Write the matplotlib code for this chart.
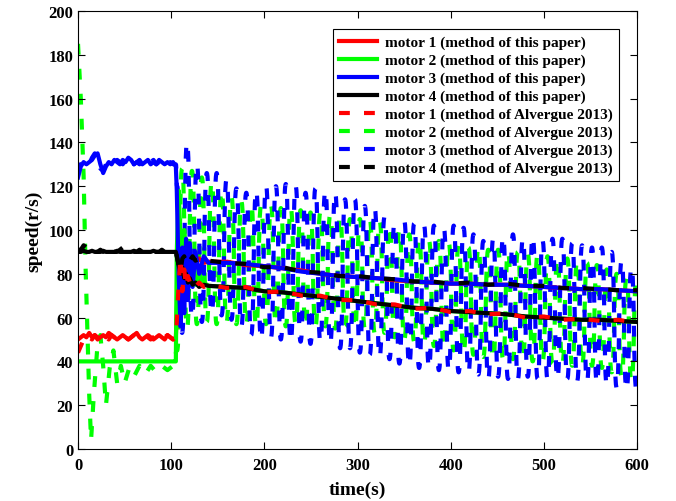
import numpy as np
import matplotlib
matplotlib.use("Agg")
import matplotlib.pyplot as plt
from matplotlib.path import Path
from matplotlib.patches import PathPatch

plt.rcParams["font.family"] = ["Liberation Serif", "DejaVu Serif"]
plt.rcParams["font.weight"] = "bold"

# time grids
pre_t = np.arange(0, 106, 3)  # 0..105
track_t = [106, 108, 110, 112, 114, 116, 118, 120, 123, 126, 130, 135,
           140, 160, 180, 200, 220, 240, 260, 280, 300, 320, 340, 360,
           380, 400, 420, 440, 460, 480, 500, 520, 540, 560, 580, 600]
osc_t = np.arange(106.4, 600, 5.3)  # turning points of the oscillating Alvergue curves

# method of this paper (solid)
red_pre = [50, 51, 52, 51, 53, 51, 52, 50, 51, 52, 51, 53, 52, 51, 50, 51, 52, 51,
           50, 51, 52, 53, 51, 50, 51, 52, 51, 50, 51, 52, 51, 50, 52, 51, 50, 51]
red_post = [62, 88, 95, 78, 90, 80, 89, 82, 88, 84, 87, 85,
            85.5, 85.5, 84, 83.5, 82.5, 81.5, 80, 79, 78.5, 78, 77, 76.5,
            76, 75.5, 75.5, 75, 75, 74.5, 74, 73.5, 73, 73, 72.5, 72]
green_pre = [40, 40, 40, 40, 40, 40, 40, 40, 40, 40, 40, 40, 40, 40, 40, 40, 40, 40,
             40, 40, 40, 40, 40, 40, 40, 40, 40, 40, 40, 40, 40, 40, 40, 40, 40, 40]
green_post = [90, 118, 96, 72, 100, 74, 92, 77, 86, 75, 80, 76,
              74.5, 74, 73.5, 72, 71.5, 70.5, 69.5, 68.5, 67.5, 66.5, 65.5, 64.5,
              64, 63, 62.5, 62, 61.5, 60.5, 60, 59.5, 59, 59, 58.5, 58]
blue_pre = [124, 129, 131, 130, 131, 132, 134, 135, 130, 126, 129, 131, 130, 132, 131, 130, 132, 131,
            133, 132, 130, 131, 132, 130, 131, 132, 130, 131, 130, 132, 131, 130, 131, 130, 131, 129]
blue_post = [118, 80, 56, 92, 62, 96, 68, 94, 74, 90, 80, 88,
             85, 85, 84.5, 83.5, 82.5, 81, 80, 79, 78.5, 78, 77.5, 76.5,
             76, 75.5, 75.5, 75, 75, 74.5, 74, 73.5, 73, 73, 72.5, 72]
black_pre = [90, 90, 90.5, 90, 90, 90.5, 90, 90, 90, 90.5, 90, 90, 90, 90, 90.5, 90, 90, 90,
             90, 90, 90.5, 90, 90, 90, 90, 90, 90, 90.5, 90, 90, 90, 90, 90, 90, 90, 90]
black_post = [88, 84, 80, 83, 78, 80, 76, 78, 75, 76, 74, 75,
              74.5, 74, 73.5, 72, 71.5, 70.5, 69.5, 68.5, 67.5, 66.5, 65.5, 64.5,
              64, 63, 62.5, 62, 61.5, 60.5, 60, 59.5, 59, 59, 58.5, 58]

# method of Alvergue 2013 (dashed)
red_d_pre = [44, 47, 50, 52, 51, 50, 52, 51, 50, 52, 51, 50, 52, 51, 50, 51, 52, 51,
             50, 51, 52, 51, 50, 51, 52, 51, 50, 51, 52, 51, 50, 51, 52, 51, 50, 51]
red_d_post = [58, 75, 88, 72, 82, 74, 79, 76, 77, 74, 76, 74,
              75, 73.5, 74, 71.5, 72, 70, 70, 68, 68, 66, 66, 64,
              64.5, 62.5, 63, 61.5, 62, 60, 60.5, 59, 59.5, 58.5, 59, 57.5]
black_d_pre = [91, 91, 93, 92, 90, 91, 90, 90, 91, 90, 92, 90, 91, 90, 90, 91, 92, 90,
               90, 91, 90, 90, 91, 90, 90, 90, 91, 90, 90, 90, 91, 90, 90, 90, 90, 90]
black_d_post = [88, 84, 81, 87, 88, 85, 87, 86, 88, 86, 87, 86,
                86, 85, 84.5, 83, 83, 81, 80.5, 79, 79, 78, 77.5, 76.5,
                76.5, 75.5, 76, 75, 75.5, 74.5, 74.5, 73.5, 73.5, 73, 72.5, 72.5]
blue_d_pre = [126, 130, 132, 131, 130, 133, 135, 133, 128, 127, 130, 131, 131, 130, 132, 131, 130, 132,
              131, 132, 130, 131, 130, 132, 131, 130, 131, 132, 130, 131, 130, 131, 130, 131, 130, 130]
blue_d_post = [120,
               53, 140, 60, 130, 58, 126, 62, 126, 61, 123, 59, 119, 56, 117, 52, 118,
               50, 120, 51, 120, 50, 121, 49, 120, 49, 117, 48, 119, 49, 118, 48, 117,
               46, 114, 46, 114, 44, 111, 43, 110, 42, 106, 41, 103, 39, 104, 38, 103,
               37, 102, 37, 102, 36, 101, 36, 102, 35, 101, 35, 98, 34, 95, 32, 96,
               33, 97, 32, 98, 32, 96, 33, 97, 32, 95, 32, 96, 32, 96, 32, 94,
               31, 93, 31, 92, 30, 92, 29, 90, 28, 86, 27, 83,
               27]
green_d_pre_t = [0, 3, 6, 8, 10, 12, 14, 17, 21, 24, 27, 30, 34, 38, 42, 46, 50, 55,
                 60, 66, 72, 78, 84, 90, 96, 102]
green_d_pre = [185, 160, 125, 85, 55, 25, 4, 25, 48, 52, 38, 20, 37, 45, 30, 38, 30, 37,
               33, 38, 34, 38, 35, 38, 36, 38]
green_d_post = [45,
                128, 55, 127, 57, 124, 58, 122, 57, 118, 58, 115, 57, 113, 57, 112, 56,
                111, 57, 111, 57, 110, 56, 110, 57, 109, 56, 108, 56, 108, 56, 107, 55,
                106, 56, 105, 55, 105, 55, 105, 53, 104, 53, 102, 51, 100, 50, 98, 49,
                96, 48, 95, 47, 95, 46, 94, 45, 93, 44, 92, 43, 92, 42, 91, 41,
                91, 41, 90, 41, 90, 41, 89, 40, 89, 40, 88, 39, 87, 39, 87, 38,
                86, 38, 85, 38, 84, 37, 82, 35, 80, 33, 78, 31,
                77]

labels = ["motor 1 (method of this paper)", "motor 2 (method of this paper)",
          "motor 3 (method of this paper)", "motor 4 (method of this paper)",
          "motor 1 (method of Alvergue 2013)", "motor 2 (method of Alvergue 2013)",
          "motor 3 (method of Alvergue 2013)", "motor 4 (method of Alvergue 2013)"]
colors = ["#ff0000", "#00ff00", "#0000ff", "#000000"]

lw = 3
dash = (0, (2.6, 3.4))


def wave_path(t_pre, v_pre, t_ext, v_ext, c=0.6):
    # pre-switch samples as straight segments, turning points joined by smooth curves
    verts = list(zip(t_pre, v_pre))
    codes = [Path.MOVETO] + [Path.LINETO] * (len(verts) - 1)
    x0, y0 = verts[-1]
    for t, v in zip(t_ext, v_ext):
        h = t - x0
        verts += [(x0 + c * h, y0), (t - c * h, v), (t, v)]
        codes += [Path.CURVE4] * 3
        x0, y0 = t, v
    return Path(verts, codes)


fig = plt.figure(figsize=(6.76, 5.02), dpi=100)
ax = fig.add_axes([0.1154, 0.1036, 0.827, 0.8725])

track_t = np.array(track_t)
ax.plot(np.r_[pre_t, track_t], red_pre + red_post, color=colors[0], lw=lw, label=labels[0])
ax.plot(np.r_[pre_t, track_t], green_pre + green_post, color=colors[1], lw=lw, label=labels[1])
ax.plot(np.r_[pre_t, track_t], blue_pre + blue_post, color=colors[2], lw=lw, label=labels[2])
ax.plot(np.r_[pre_t, track_t], black_pre + black_post, color=colors[3], lw=lw, label=labels[3])

ax.plot(np.r_[pre_t, track_t], red_d_pre + red_d_post, color=colors[0], lw=lw, ls=dash, label=labels[4])

ax.plot([], [], color=colors[1], lw=lw, ls=dash, label=labels[5])
ax.add_patch(PathPatch(wave_path(green_d_pre_t, green_d_pre, list(osc_t) + [600], green_d_post + [76]),
                       fill=False, edgecolor=colors[1], lw=lw, ls=dash, joinstyle="round"))
ax.plot([], [], color=colors[2], lw=lw, ls=dash, label=labels[6])
ax.add_patch(PathPatch(wave_path(pre_t, blue_d_pre, list(osc_t) + [600], blue_d_post + [30]),
                       fill=False, edgecolor=colors[2], lw=lw, ls=dash, joinstyle="round"))

ax.plot(np.r_[pre_t, track_t], black_d_pre + black_d_post, color=colors[3], lw=lw, ls=dash, label=labels[7])

ax.set_xlim(0, 600)
ax.set_ylim(0, 200)
ax.set_xticks(range(0, 601, 100))
ax.set_yticks(range(0, 201, 20))
ax.tick_params(direction="in", top=True, right=True, labelsize=12, length=5)
ax.tick_params(axis="x", pad=6)
for lab in ax.get_xticklabels() + ax.get_yticklabels():
    lab.set_fontweight("bold")
ax.set_xlabel("time(s)", fontsize=14, fontweight="bold", labelpad=5)
ax.set_ylabel("speed(r/s)", fontsize=14, fontweight="bold", labelpad=4)

leg = ax.legend(loc="upper right", fontsize=11, handlelength=2.5, labelspacing=0.27,
                handletextpad=0.5, borderpad=0.4, borderaxespad=1.2, fancybox=False,
                framealpha=1, edgecolor="black")
leg.get_frame().set_linewidth(0.8)

fig.savefig("out.png", dpi=100)
